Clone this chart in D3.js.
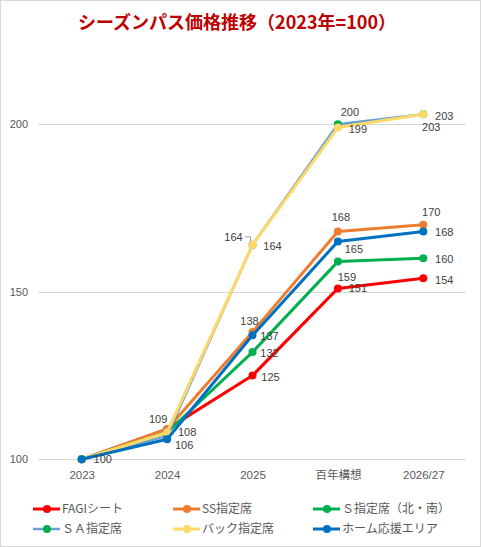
<!DOCTYPE html>
<html>
<head>
<meta charset="utf-8">
<script src="https://cdn.jsdelivr.net/npm/d3@7"></script>
<style>
  html, body { margin: 0; padding: 0; background: #fff; }
  svg text { font-family: "Liberation Sans", "Noto Sans CJK JP", sans-serif; }
</style>
</head>
<body>
<div id="chart"></div>
<script>
// data
var categories = ["2023", "2024", "2025", "百年構想", "2026/27"];
var seriesNames = ["FAGIシート", "SS指定席", "Ｓ指定席（北・南）", "ＳＡ指定席", "バック指定席", "ホーム応援エリア"];
var fagi  = [100, 109, 125, 151, 154];
var ss    = [100, 109, 138, 168, 170];
var sSeat = [100, 108, 132, 159, 160];
var sa    = [100, 107, 164, 200, 203];
var back  = [100, 108, 164, 199, 203];
var home  = [100, 106, 137, 165, 168];
var yTicks = [100, 150, 200];

// styling / layout
var lineColors   = ["#ff0000", "#ed7d31", "#00b050", "#6a9fd4", "#ffd966", "#0070c0"];
var markerColors = ["#ff0000", "#ed7d31", "#00b050", "#00b050", "#ffd966", "#0070c0"];
var lineWidths   = [3, 3, 3, 2.5, 3, 3];
// label offsets (label centre relative to the point), null = no label
var labelOffsets = [
    [null, null, [18, 2], [20, 0], [21, 2]],
    [null, [-9, -10], [-3, -11], [3, -14], [8, -13]],
    [null, [20, 0], [17, 1], [9, 15], [21, 1]],
    [null, null, [-19, -8], [12, -12], [21, 2]],
    [null, null, [20, 1], [20, 1], [8, 13]],
    [[21, 0], [17, 6], [17, 1], [16, 8], [21, 1]]
];

var allValues = [fagi, ss, sSeat, sa, back, home];
var W = 481, H = 547;

var svg = d3.select("#chart").append("svg")
    .attr("width", W)
    .attr("height", H);

svg.append("rect")
    .attr("x", 0.5).attr("y", 0.5)
    .attr("width", W - 1).attr("height", H - 1)
    .attr("fill", "#fff")
    .attr("stroke", "#d9d9d9");

svg.append("text")
    .attr("x", 237)
    .attr("y", 29)
    .attr("text-anchor", "middle")
    .attr("font-size", "18px")
    .attr("font-weight", "bold")
    .attr("fill", "#c00000")
    .style("font-family", "'Noto Sans CJK JP', sans-serif")
    .text("シーズンパス価格推移（2023年=100）");

var x = d3.scalePoint().domain(categories).range([39, 466]).padding(0.5);
var y = d3.scaleLinear().domain([100, 220]).range([459.3, 57.2]);

// grid lines
svg.append("g").selectAll("line")
    .data(yTicks)
    .enter()
    .append("line")
    .attr("x1", 38)
    .attr("x2", 466)
    .attr("y1", function(d) { return Math.round(y(d)) + 0.5; })
    .attr("y2", function(d) { return Math.round(y(d)) + 0.5; })
    .attr("stroke", "#d9d9d9")
    .attr("stroke-width", 1);

// y axis labels
var yAxis = d3.axisLeft(y).tickValues(yTicks).tickSize(0).tickPadding(0);
var yg = svg.append("g")
    .attr("transform", "translate(28,0)")
    .call(yAxis);
yg.select(".domain").remove();
yg.selectAll("text")
    .attr("font-size", "11px")
    .attr("fill", "#595959")
    .style("font-family", "'Liberation Sans', sans-serif");

// x axis labels
var xAxis = d3.axisBottom(x).tickSize(0).tickPadding(0);
var xg = svg.append("g")
    .attr("transform", "translate(0,471)")
    .call(xAxis);
xg.select(".domain").remove();
xg.selectAll("text")
    .attr("font-size", "11.5px")
    .attr("fill", "#595959")
    .style("font-family", "'Liberation Sans', 'Noto Sans CJK JP', sans-serif");

var line = d3.line()
    .x(function(d, i) { return x(categories[i]); })
    .y(function(d) { return y(d); });

var plot = svg.append("g");
for (var s = 0; s < allValues.length; s++) {
    var g = plot.append("g").attr("class", "series");
    g.append("path")
        .datum(allValues[s])
        .attr("d", line)
        .attr("fill", "none")
        .attr("stroke", lineColors[s])
        .attr("stroke-width", lineWidths[s])
        .attr("stroke-linejoin", "round");
    g.selectAll("circle")
        .data(allValues[s])
        .enter()
        .append("circle")
        .attr("cx", function(d, i) { return x(categories[i]); })
        .attr("cy", function(d) { return y(d); })
        .attr("r", 4)
        .attr("fill", markerColors[s]);
}

// data labels
var labels = svg.append("g");
for (var s = 0; s < allValues.length; s++) {
    allValues[s].forEach(function(v, i) {
        var off = labelOffsets[s][i];
        if (!off) return;
        var px = x(categories[i]), py = y(v);
        labels.append("text")
            .attr("x", px + off[0])
            .attr("y", py + off[1])
            .attr("dy", "0.36em")
            .attr("text-anchor", "middle")
            .attr("font-size", "11px")
            .attr("fill", "#404040")
            .style("font-family", "'Liberation Sans', sans-serif")
            .text(v);
        if (off[0] < 0 && off[1] < 0 && i == 2 && s == 3) {
            // leader line
            var lx = px + off[0] + 11, ly = py + off[1];
            labels.append("path")
                .attr("d", "M" + lx + "," + ly + "H" + (px - 2) + "V" + (py - 3))
                .attr("fill", "none")
                .attr("stroke", "#a6a6a6")
                .attr("stroke-width", 1);
        }
    });
}

// legend
var legendCols = [33, 173, 313];
var legendRows = [509, 529];
var legend = svg.append("g");
seriesNames.forEach(function(name, i) {
    var lx = legendCols[i % 3], ly = legendRows[Math.floor(i / 3)];
    var item = legend.append("g").attr("transform", "translate(" + lx + "," + ly + ")");
    item.append("line")
        .attr("x1", 0).attr("x2", 27)
        .attr("y1", 0).attr("y2", 0)
        .attr("stroke", lineColors[i])
        .attr("stroke-width", lineWidths[i]);
    item.append("circle")
        .attr("cx", 14).attr("cy", 0).attr("r", 4)
        .attr("fill", markerColors[i]);
    item.append("text")
        .attr("x", 29)
        .attr("y", 0)
        .attr("dy", "0.36em")
        .attr("font-size", "12px")
        .attr("fill", "#595959")
        .style("font-family", "'Noto Sans CJK JP', sans-serif")
        .text(name);
});
</script>
</body>
</html>
